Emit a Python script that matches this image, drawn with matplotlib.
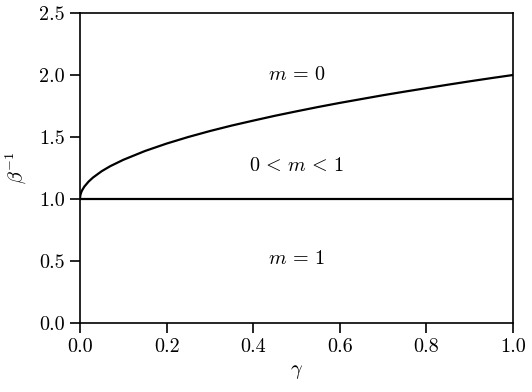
import matplotlib
matplotlib.use("Agg")
import matplotlib.pyplot as plt

plt.rcParams["font.family"] = "serif"
plt.rcParams["font.serif"] = ["cmr10"]
plt.rcParams["mathtext.fontset"] = "cm"
plt.rcParams["axes.formatter.use_mathtext"] = True
plt.rcParams["axes.unicode_minus"] = False

# boundary between m = 0 and 0 < m < 1
gamma = [0.0, 0.0005, 0.001, 0.002, 0.003, 0.005, 0.01, 0.02, 0.03, 0.05,
         0.07, 0.1, 0.15, 0.2, 0.25, 0.3, 0.35, 0.4, 0.45, 0.5, 0.55, 0.6,
         0.65, 0.7, 0.75, 0.8, 0.85, 0.9, 0.95, 1.0]
beta_inv = [1.0, 1.022, 1.032, 1.045, 1.055, 1.071, 1.10, 1.141, 1.173, 1.224,
            1.265, 1.316, 1.387, 1.447, 1.50, 1.548, 1.592, 1.632, 1.671,
            1.707, 1.742, 1.775, 1.806, 1.837, 1.866, 1.894, 1.922, 1.949,
            1.975, 2.0]

# lower boundary m = 1
flat_x = [0.0, 1.0]
flat_y = [1.0, 1.0]

region_labels = [r"$m\,=\,0$", r"$0\,<\,m\,<\,1$", r"$m\,=\,1$"]
region_x = [0.5, 0.5, 0.5]
region_y = [2.0, 1.27, 0.52]

fig = plt.figure(figsize=(5.32, 3.92), dpi=100)
ax = fig.add_axes([80 / 532, 69 / 392, 433 / 532, 310 / 392])

ax.plot(gamma, beta_inv, color="black", lw=1.6)
ax.plot(flat_x, flat_y, color="black", lw=1.6)

for lab, x, y in zip(region_labels, region_x, region_y):
    ax.text(x, y, lab, ha="center", va="center", fontsize=14.5)

ax.set_xlim(0, 1)
ax.set_ylim(0, 2.5)
ax.set_xticks([0.0, 0.2, 0.4, 0.6, 0.8, 1.0])
ax.set_yticks([0.0, 0.5, 1.0, 1.5, 2.0, 2.5])
ax.set_xticklabels(["0.0", "0.2", "0.4", "0.6", "0.8", "1.0"])
ax.set_yticklabels(["0.0", "0.5", "1.0", "1.5", "2.0", "2.5"])
ax.tick_params(labelsize=14.5, length=7, width=1.2, pad=4)
for s in ax.spines.values():
    s.set_linewidth(1.2)

ax.set_xlabel(r"$\gamma$", fontsize=14.5, labelpad=5)
ax.set_ylabel(r"$\beta^{-1}$", fontsize=14.5, labelpad=7)

fig.savefig("out.png", dpi=100)
